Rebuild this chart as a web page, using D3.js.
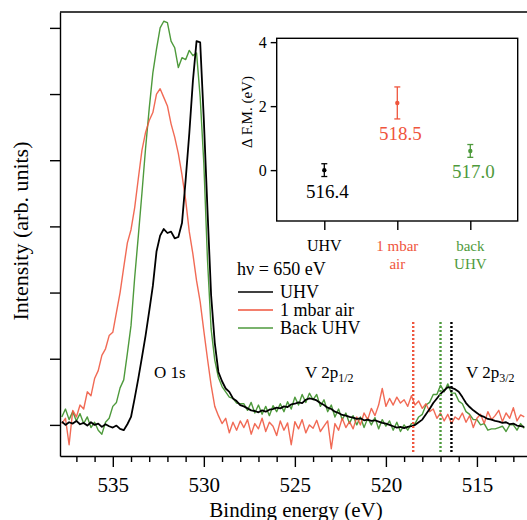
<!DOCTYPE html>
<html>
<head>
<meta charset="utf-8">
<script src="https://cdn.jsdelivr.net/npm/d3@7"></script>
<style>
  body { margin: 0; background: #fff; }
  svg { display: block; }
  text { font-family: "Liberation Serif", "Times New Roman", serif !important; }
</style>
</head>
<body>
<svg id="chart" width="527" height="520"></svg>
<script>
// spectra are sampled on a binding energy grid (eV), highest energy first
const energyStart = 537.8;
const energyStep = 0.2;

// intensity (arb. units), one row = 2 eV
const uhv = [
  0.05, 0.00, 0.04, 0.02, 0.06, 0.01, 0.03, -0.01, 0.04, 0.00,
  0.02, -0.03, 0.01, -0.02, -0.04, -0.01, -0.06, -0.08, 0.01, 0.12,
  0.40, 0.70, 1.02, 1.35, 1.72, 2.10, 2.62, 2.86, 2.96, 2.90,
  2.92, 2.82, 2.84, 3.05, 3.70, 4.40, 5.20, 5.80, 5.78, 4.61,
  3.25, 1.96, 1.24, 0.80, 0.66, 0.55, 0.50, 0.40, 0.36, 0.30,
  0.28, 0.25, 0.22, 0.21, 0.19, 0.22, 0.20, 0.23, 0.24, 0.26,
  0.25, 0.28, 0.27, 0.31, 0.32, 0.34, 0.33, 0.38, 0.40, 0.39,
  0.37, 0.33, 0.30, 0.26, 0.24, 0.20, 0.18, 0.15, 0.14, 0.12,
  0.11, 0.09, 0.10, 0.07, 0.08, 0.06, 0.07, 0.05, 0.03, 0.02,
  0.00, -0.02, -0.04, -0.03, -0.05, -0.03, -0.02, 0.00, 0.04, 0.08,
  0.16, 0.24, 0.33, 0.40, 0.47, 0.52, 0.57, 0.56, 0.54, 0.50,
  0.42, 0.33, 0.27, 0.22, 0.18, 0.14, 0.12, 0.09, 0.08, 0.06,
  0.05, 0.03, 0.04, 0.01, 0.02, -0.01, -0.02, -0.03
];

const air = [
  0.02, 0.10, -0.30, 0.22, 0.12, 0.30, 0.24, 0.50, 0.44, 0.70,
  0.82, 1.05, 1.15, 1.35, 1.40, 1.70, 2.00, 2.38, 2.75, 2.95,
  3.28, 3.72, 4.15, 4.42, 4.60, 4.72, 5.00, 5.08, 4.95, 4.82,
  4.55, 4.35, 4.10, 3.78, 3.40, 2.92, 2.58, 2.18, 1.86, 1.42,
  1.00, 0.60, 0.28, 0.14, 0.02, 0.10, -0.12, 0.04, -0.08, 0.06,
  -0.04, 0.08, -0.14, 0.02, -0.06, 0.10, -0.10, 0.04, -0.02, -0.16,
  0.06, -0.08, 0.03, -0.30, 0.05, -0.06, 0.08, -0.12, 0.00, -0.05,
  0.07, -0.10, -0.02, 0.06, -0.36, 0.02, -0.08, 0.10, -0.04, 0.05,
  -0.06, 0.12, 0.00, 0.18, 0.08, 0.25, 0.14, 0.30, 0.55, 0.28,
  0.40, 0.30, 0.42, 0.33, 0.38, 0.28, 0.44, 0.30, 0.36, 0.25,
  0.32, 0.20, 0.24, 0.10, 0.18, 0.06, 0.16, 0.02, 0.12, 0.08,
  0.18, 0.04, 0.14, -0.04, 0.10, 0.16, 0.02, 0.20, 0.08, 0.14,
  0.22, 0.05, 0.18, 0.10, 0.26, 0.06, 0.15, 0.12
];

const backUhv = [
  0.12, 0.24, 0.08, 0.20, 0.06, 0.17, 0.02, 0.12, -0.04, 0.04,
  -0.08, -0.14, 0.04, 0.10, 0.28, 0.34, 0.56, 0.68, 1.08, 1.50,
  2.22, 2.85, 3.50, 4.18, 4.78, 5.32, 5.68, 6.00, 6.10, 6.08,
  5.80, 5.70, 5.40, 5.55, 5.52, 5.66, 5.58, 5.62, 4.95, 3.95,
  2.50, 1.45, 0.98, 0.72, 0.58, 0.50, 0.42, 0.40, 0.33, 0.32,
  0.32, 0.22, 0.34, 0.18, 0.30, 0.16, 0.28, 0.14, 0.29, 0.20,
  0.32, 0.20, 0.35, 0.24, 0.42, 0.30, 0.46, 0.34, 0.48, 0.38,
  0.46, 0.28, 0.38, 0.20, 0.30, 0.12, 0.24, 0.08, 0.18, 0.02,
  0.14, 0.00, 0.12, -0.04, 0.10, 0.00, 0.11, -0.06, 0.08, -0.02,
  0.06, -0.08, 0.04, -0.10, 0.00, -0.08, 0.02, 0.02, 0.12, 0.16,
  0.30, 0.34, 0.46, 0.46, 0.60, 0.50, 0.62, 0.48, 0.48, 0.36,
  0.32, 0.20, 0.16, 0.08, 0.08, 0.00, 0.02, -0.08, -0.06, -0.06,
  -0.04, -0.02, -0.10, 0.00, 0.00, -0.08, 0.02, -0.05
];

const seriesNames = ['UHV', '1 mbar air', 'Back UHV'];
const xMajorTicks = [535, 530, 525, 520, 515];
const xMinorTicks = [537, 536, 534, 533, 532, 531, 529, 528, 527, 526, 524, 523, 522, 521, 519, 518, 517, 516, 514, 513];
const yTicks = [0, 1, 2, 3, 4, 5, 6];

// inset: change of F.M. and V 2p3/2 position per condition
const conditions = ['UHV', '1 mbar air', 'back UHV'];
const conditionLines = [['UHV'], ['1 mbar', 'air'], ['back', 'UHV']];
const deltaFM = [0.0, 2.1, 0.6];
const deltaErr = [0.2, 0.5, 0.2];
const v2pPosition = [516.4, 518.5, 517.0];
const insetTicks = [0, 2, 4];

const colors = ['#000000', '#ef553d', '#4e9a3c'];

const svg = d3.select('#chart');

// ---------- main spectrum ----------
const x = d3.scaleLinear().domain([537.9, 512.25]).range([60, 527]);
const y = d3.scaleLinear().domain([-0.47, 6.24]).range([456, 12]);

const toPoints = vals => vals.map((v, i) => ({ e: energyStart - i * energyStep, v: v }));
const spectra = [uhv, air, backUhv].map(toPoints);

const line = d3.line()
  .x(d => x(d.e))
  .y(d => y(d.v));

// draw back UHV, then air, then UHV on top
const drawOrder = [2, 1, 0];
svg.append('g')
  .selectAll('path')
  .data(drawOrder)
  .join('path')
  .attr('d', i => line(spectra[i]))
  .attr('fill', 'none')
  .attr('stroke', i => colors[i])
  .attr('stroke-width', i => i === 0 ? 1.8 : 1.4)
  .attr('stroke-opacity', i => i === 1 ? 0.88 : 1)
  .attr('stroke-linejoin', 'round');

// dotted V 2p3/2 markers
svg.append('g')
  .selectAll('line')
  .data(v2pPosition)
  .join('line')
  .attr('x1', d => x(d)).attr('x2', d => x(d))
  .attr('y1', 322).attr('y2', 453)
  .attr('stroke', (d, i) => colors[i])
  .attr('stroke-width', 2.4)
  .attr('stroke-dasharray', '2,2');

// axes
const xMinorAxis = d3.axisBottom(x).tickValues(xMinorTicks).tickSize(6).tickFormat('').tickSizeOuter(0);
const xMajorAxis = d3.axisBottom(x).tickValues(xMajorTicks).tickSize(11).tickPadding(10).tickSizeOuter(0);
const yAxis = d3.axisLeft(y).tickValues(yTicks).tickSize(10).tickFormat('').tickSizeOuter(0);

const xMinorG = svg.append('g').attr('transform', `translate(0,${y.range()[0]})`).call(xMinorAxis);
const xMajorG = svg.append('g').attr('transform', `translate(0,${y.range()[0]})`).call(xMajorAxis);
xMajorG.select('.domain').remove();
const yAxisG = svg.append('g').attr('transform', `translate(${x.range()[0]},0)`).call(yAxis);

[xMinorG, xMajorG, yAxisG].forEach(g => {
  g.attr('font-family', null).attr('font-size', 21);
  g.selectAll('.domain, line').attr('stroke', '#000').attr('stroke-width', 1.4);
  g.selectAll('text').attr('fill', '#000');
});

// top frame line
svg.append('line')
  .attr('x1', x.range()[0]).attr('x2', x.range()[1])
  .attr('y1', y.range()[1]).attr('y2', y.range()[1])
  .attr('stroke', '#000').attr('stroke-width', 1.4);

// axis titles
svg.append('text')
  .attr('x', 296).attr('y', 517)
  .attr('text-anchor', 'middle')
  .attr('font-size', 21)
  .text('Binding energy (eV)');

svg.append('text')
  .attr('transform', 'translate(28,231) rotate(-90)')
  .attr('text-anchor', 'middle')
  .attr('font-size', 22)
  .text('Intensity (arb. units)');

// peak labels
svg.append('text')
  .attr('x', 154).attr('y', 378)
  .attr('font-size', 17)
  .text('O 1s');

const peakLabel = (px, sub) => {
  const t = svg.append('text').attr('x', px).attr('y', 378).attr('font-size', 17);
  t.append('tspan').text('V 2p');
  t.append('tspan').attr('dy', 3.5).attr('font-size', 12).text(sub);
};
peakLabel(305, '1/2');
peakLabel(466, '3/2');

// legend
const legend = svg.append('g');
legend.append('text')
  .attr('x', 237).attr('y', 275)
  .attr('font-size', 18)
  .text('h\u03BD = 650 eV');

const legendRows = legend.selectAll('g.row')
  .data(seriesNames)
  .join('g')
  .attr('class', 'row')
  .attr('transform', (d, i) => `translate(0,${292 + i * 18})`);

legendRows.append('line')
  .attr('x1', 238).attr('x2', 273)
  .attr('stroke', (d, i) => colors[i])
  .attr('stroke-width', 1.5);

legendRows.append('text')
  .attr('x', 280).attr('y', 6)
  .attr('font-size', 18)
  .text(d => d);

// ---------- inset ----------
const ix = d3.scalePoint().domain(conditions).range([324.3, 470.3]);
const iy = d3.scaleLinear().domain([-1.59, 4.12]).range([221, 38.3]);

const inset = svg.append('g');

inset.append('rect')
  .attr('x', 276.7).attr('y', iy.range()[1])
  .attr('width', 517.7 - 276.7).attr('height', iy.range()[0] - iy.range()[1])
  .attr('fill', '#fff')
  .attr('stroke', '#000').attr('stroke-width', 1.4);

const iyAxisG = inset.append('g')
  .attr('transform', 'translate(276.7,0)')
  .call(d3.axisLeft(iy).tickValues(insetTicks).tickFormat(d3.format('d')).tickSize(6).tickPadding(4).tickSizeOuter(0));
const ixAxisG = inset.append('g')
  .attr('transform', `translate(0,${iy.range()[0]})`)
  .call(d3.axisBottom(ix).tickSize(9).tickFormat('').tickSizeOuter(0));

[iyAxisG, ixAxisG].forEach(g => {
  g.attr('font-family', null).attr('font-size', 16);
  g.select('.domain').remove();
  g.selectAll('line').attr('stroke', '#000').attr('stroke-width', 1.4);
  g.selectAll('text').attr('fill', '#000');
});

inset.append('text')
  .attr('transform', 'translate(252,112) rotate(-90)')
  .attr('text-anchor', 'middle')
  .attr('font-size', 15)
  .text('\u0394 F.M. (eV)');

// category labels under the inset
conditions.forEach((c, i) => {
  const t = inset.append('text')
    .attr('x', ix(c))
    .attr('y', 251)
    .attr('text-anchor', 'middle')
    .attr('fill', colors[i])
    .attr('font-size', i === 0 ? 16 : 15);
  conditionLines[i].forEach((s, k) => {
    t.append('tspan').attr('x', ix(c)).attr('dy', k === 0 ? 0 : 18).text(s);
  });
});

// error bars with points
const bars = inset.selectAll('g.bar')
  .data(conditions)
  .join('g')
  .attr('class', 'bar')
  .attr('stroke', (d, i) => colors[i])
  .attr('fill', (d, i) => colors[i]);

bars.append('line')
  .attr('x1', d => ix(d)).attr('x2', d => ix(d))
  .attr('y1', (d, i) => iy(deltaFM[i] + deltaErr[i]))
  .attr('y2', (d, i) => iy(deltaFM[i] - deltaErr[i]))
  .attr('stroke-width', 1.3);

[1, -1].forEach(sign => {
  bars.append('line')
    .attr('x1', d => ix(d) - 3).attr('x2', d => ix(d) + 3)
    .attr('y1', (d, i) => iy(deltaFM[i] + sign * deltaErr[i]))
    .attr('y2', (d, i) => iy(deltaFM[i] + sign * deltaErr[i]))
    .attr('stroke-width', 1.3);
});

bars.append('circle')
  .attr('cx', d => ix(d))
  .attr('cy', (d, i) => iy(deltaFM[i]))
  .attr('r', 2.2)
  .attr('stroke', 'none');

// V 2p3/2 position written below each bar
bars.append('text')
  .attr('x', d => ix(d) + 3)
  .attr('y', (d, i) => iy(deltaFM[i] - deltaErr[i]) + 21)
  .attr('text-anchor', 'middle')
  .attr('stroke', 'none')
  .attr('font-size', 19)
  .text((d, i) => v2pPosition[i].toFixed(1));
</script>
</body>
</html>
